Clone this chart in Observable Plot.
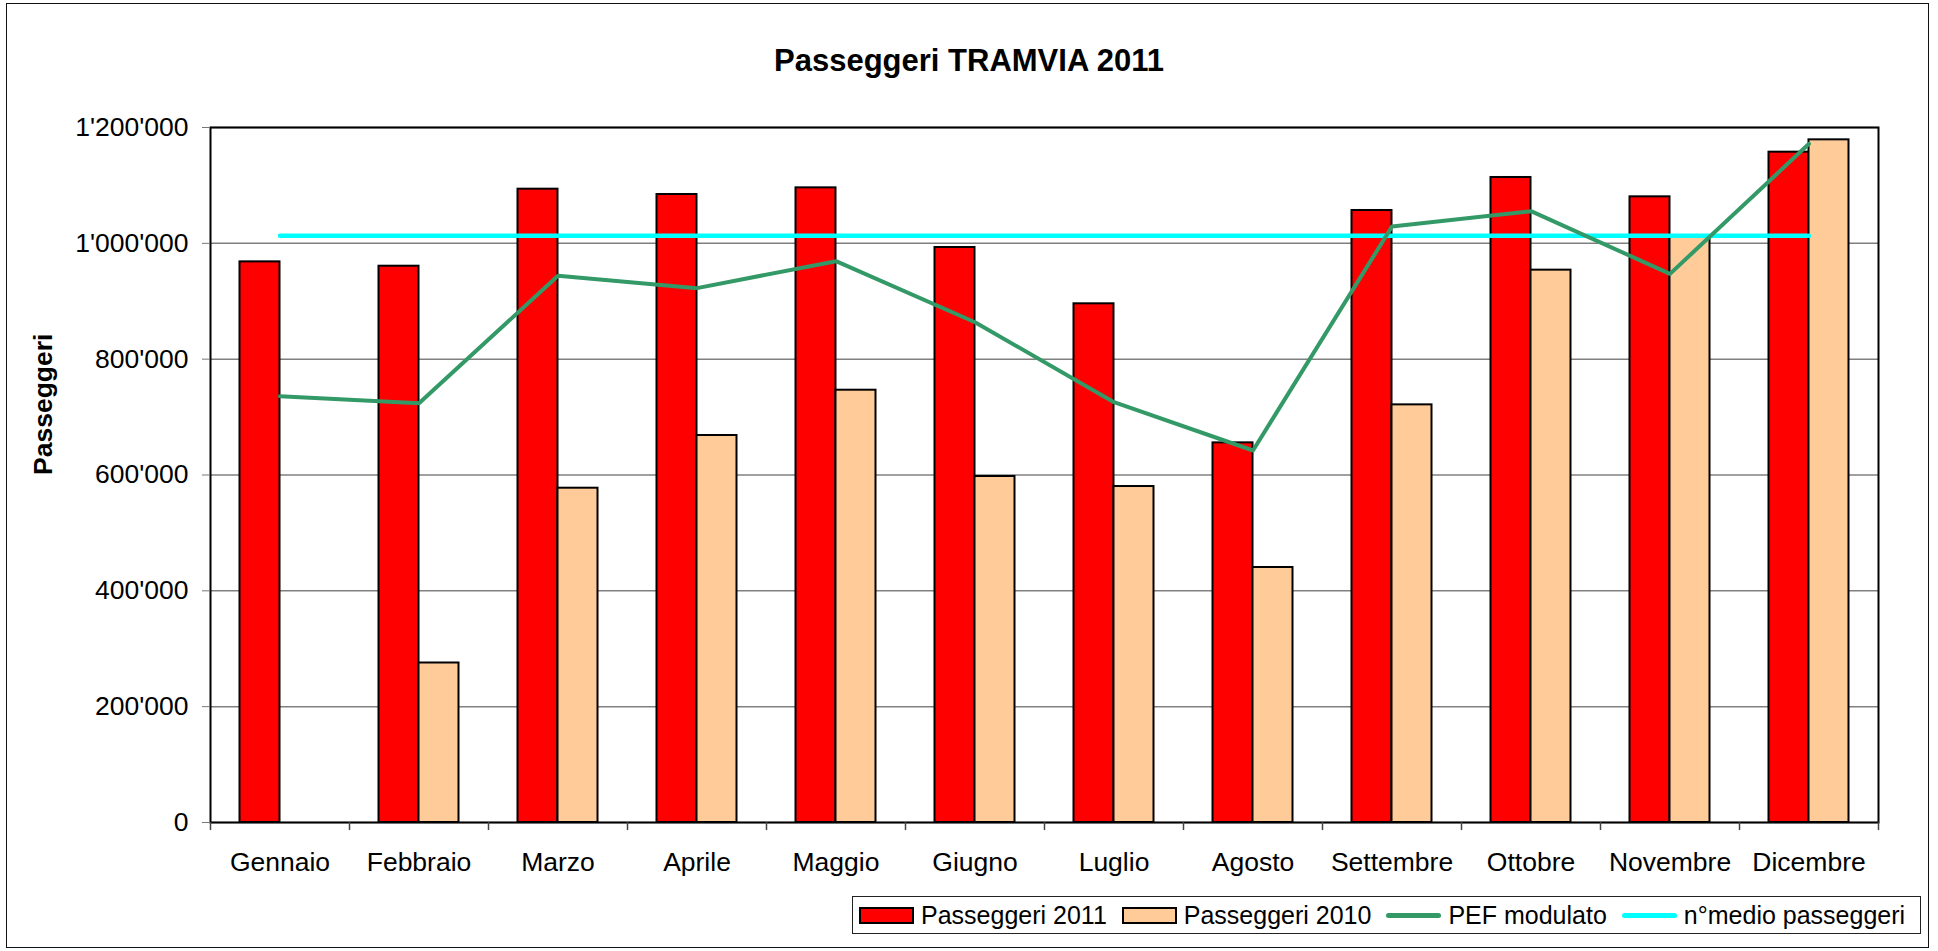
<!DOCTYPE html>
<html><head><meta charset="utf-8">
<script src="https://cdn.jsdelivr.net/npm/d3@7"></script>
<script src="https://cdn.jsdelivr.net/npm/@observablehq/plot@0.6"></script>
<style>
html,body{margin:0;padding:0;background:#fff;}
#wrap{position:relative;width:1938px;height:951px;font-family:"Liberation Sans",Arial,sans-serif;overflow:hidden;background:#fff;}
#border{position:absolute;left:6px;top:3px;width:1923px;height:945px;border:1.5px solid #111;box-sizing:border-box;}
#title{position:absolute;left:0;width:1938px;top:44.5px;text-align:center;font-size:31px;line-height:31px;font-weight:bold;color:#000;}
#chart{position:absolute;left:0;top:0;}
#legend{position:absolute;left:852px;top:896px;width:1069px;height:38px;border:1.5px solid #222;box-sizing:border-box;display:flex;align-items:center;padding:0 6px;font-size:25px;background:#fff;color:#000;}
.sw{width:55px;height:17px;box-sizing:border-box;border:2px solid #000;margin-right:7px;flex:none;}
.ln{width:55px;height:5px;border-radius:3px;margin-right:7px;flex:none;}
.item{display:flex;align-items:center;margin-right:15px;white-space:nowrap;}
.item:last-child{margin-right:0;}
</style>
</head>
<body>
<div id="wrap">
  <div id="border"></div>
  <div id="chart"></div>
  <div id="title"></div>
  <div id="legend"></div>
</div>
<script>
// ---- data ----
const months = ["Gennaio","Febbraio","Marzo","Aprile","Maggio","Giugno","Luglio","Agosto","Settembre","Ottobre","Novembre","Dicembre"];
const passeggeri2011 = [968000, 960500, 1093500, 1084300, 1095800, 992800, 895600, 655500, 1056700, 1113700, 1080300, 1157400];
const passeggeri2010 = [null, 275400, 577200, 668200, 746400, 597400, 580100, 440300, 721100, 953700, 1012000, 1178700];
const pefModulato = [736100, 724000, 943900, 922600, 969200, 863800, 725700, 642300, 1029000, 1055500, 947300, 1171800];
const medioPasseggeri = 1013000;
const yTicks = [0, 200000, 400000, 600000, 800000, 1000000, 1200000];
const titleText = "Passeggeri TRAMVIA 2011";
const yLabel = "Passeggeri";
const seriesNames = ["Passeggeri 2011", "Passeggeri 2010", "PEF modulato", "n°medio passeggeri"];
const colors = {v2011: "#FF0000", v2010: "#FFCC99", pef: "#339966", mean: "#00FFFF"};

const table = months.map((m, i) => ({
  month: m,
  v2011: passeggeri2011[i],
  v2010: passeggeri2010[i],
  pef: pefModulato[i],
  mean: medioPasseggeri
}));

const W = 1938, H = 890;
const mL = 210, mR = 60, mT = 127, mB = H - 822;
const bw = (W - mL - mR) / months.length;
const fmt = d => d3.format(",")(d).replace(/,/g, "'");
const FONT = '"Liberation Sans", Arial, sans-serif';

const chart = Plot.plot({
  width: W, height: H,
  marginLeft: mL, marginRight: mR, marginTop: mT, marginBottom: mB,
  style: {fontFamily: FONT, fontSize: "26.5px", color: "#000", background: "transparent", overflow: "visible"},
  x: {domain: months, padding: 0, axis: null},
  y: {domain: [0, 1200000], axis: null},
  marks: [
    Plot.ruleY(yTicks, {stroke: "#808080", strokeWidth: 1.5}),
    Plot.barY(table, {x: "month", y: "v2011", fill: colors.v2011, stroke: "#000", strokeWidth: 2, insetLeft: 29.5, insetRight: bw / 2}),
    Plot.barY(table.filter(d => d.v2010 != null), {x: "month", y: "v2010", fill: colors.v2010, stroke: "#000", strokeWidth: 2, insetLeft: bw / 2, insetRight: 29.5}),
    Plot.line(table, {x: "month", y: "mean", stroke: colors.mean, strokeWidth: 4.5, strokeLinecap: "round"}),
    Plot.line(table, {x: "month", y: "pef", stroke: colors.pef, strokeWidth: 4, strokeLinejoin: "round"}),
    Plot.frame({stroke: "#000", strokeWidth: 2}),
    Plot.ruleX(months, {x: d => d, y1: 0, y2: 0, dx: -bw / 2, insetBottom: -8, stroke: "#444", strokeWidth: 1.5}),
    Plot.ruleX(months.slice(-1), {x: d => d, y1: 0, y2: 0, dx: bw / 2, insetBottom: -8, stroke: "#444", strokeWidth: 1.5}),
    Plot.axisY(yTicks, {tickSize: 8, tickPadding: 14, tickFormat: fmt, stroke: "#777", fill: "#000", fontSize: 26.5, label: null}),
    Plot.axisX({tickSize: 0, tickPadding: 30, fontSize: 26.5, fill: "#000", label: null}),
    Plot.text([yLabel], {frameAnchor: "left", dx: 51 - mL, rotate: -90, lineAnchor: "bottom", fontWeight: "bold", fontSize: 26.5, fill: "#000", text: d => d})
  ]
});
document.getElementById("chart").appendChild(chart);
document.getElementById("title").textContent = titleText;

const legend = document.getElementById("legend");
const kinds = [["sw", colors.v2011], ["sw", colors.v2010], ["ln", colors.pef], ["ln", colors.mean]];
seriesNames.forEach((name, i) => {
  const item = document.createElement("div");
  item.className = "item";
  const s = document.createElement("span");
  s.className = kinds[i][0];
  s.style.background = kinds[i][1];
  const t = document.createElement("span");
  t.textContent = name;
  item.appendChild(s); item.appendChild(t);
  legend.appendChild(item);
});
</script>
</body></html>
